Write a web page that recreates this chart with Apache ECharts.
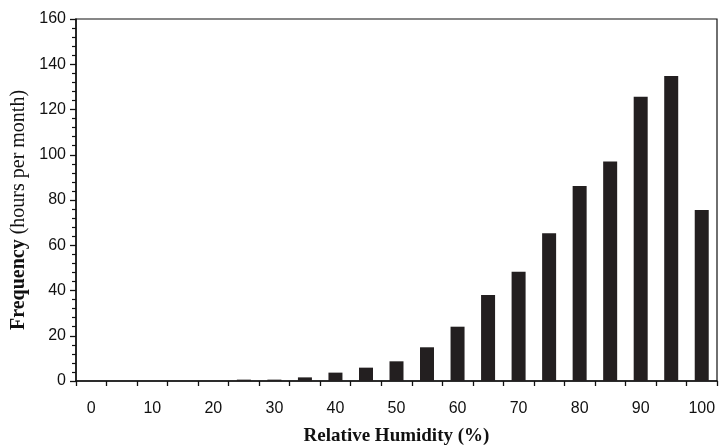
<!DOCTYPE html>
<html>
<head>
<meta charset="utf-8">
<script src="https://cdn.jsdelivr.net/npm/echarts@6/dist/echarts.min.js"></script>
<style>html,body{margin:0;padding:0;background:#fff;}#c{width:725px;height:445px;}</style>
</head>
<body>
<div id="c"></div>
<script>
const categories = ['0','5','10','15','20','25','30','35','40','45','50','55','60','65','70','75','80','85','90','95','100'];
const frequency = [0,0,0,0,0,0.6,0.6,1.6,3.7,5.9,8.7,14.9,24,38,48.3,65.3,86.2,97,125.6,134.8,75.6];
const yTicks = {min:0, max:160, interval:20};

const chart = echarts.init(document.getElementById('c'), null, {renderer:'canvas'});
chart.setOption({
  backgroundColor:'#fff',
  animation:false,
  grid:{left:76, top:19, right:8, bottom:64, outerBoundsMode:'none', containLabel:false,
        show:true, borderColor:'#111', borderWidth:1.2, backgroundColor:'transparent'},
  xAxis:{
    type:'category', data:categories, boundaryGap:true,
    name:'Relative Humidity (%)', nameLocation:'middle', nameGap:46,
    nameTextStyle:{fontFamily:'Liberation Serif', fontWeight:'bold', fontSize:19, color:'#111'},
    axisLine:{lineStyle:{color:'#111', width:1.5}},
    axisTick:{show:true, interval:0, length:5, lineStyle:{color:'#111', width:1.3}},
    axisLabel:{interval:1, fontFamily:'Liberation Sans', fontSize:16, color:'#111', margin:20},
    splitLine:{show:false}
  },
  yAxis:{
    type:'value', min:yTicks.min, max:yTicks.max, interval:yTicks.interval,
    name:'{b|Frequency} {r|(hours per month)}', nameLocation:'middle', nameGap:40,
    nameTextStyle:{fontFamily:'Liberation Serif', fontSize:20, color:'#111', padding:[0,20,0,0],
      rich:{
        b:{fontFamily:'Liberation Serif', fontWeight:'bold', fontSize:20, color:'#111'},
        r:{fontFamily:'Liberation Serif', fontWeight:'normal', fontSize:20, color:'#111'}
      }},
    axisLine:{show:true, lineStyle:{color:'#111', width:1.5}},
    axisTick:{show:true, length:6, lineStyle:{color:'#111', width:1.3}},
    minorTick:{show:true, splitNumber:5, length:4, lineStyle:{color:'#111', width:1.2}},
    axisLabel:{fontFamily:'Liberation Sans', fontSize:16, color:'#111', margin:10},
    splitLine:{show:false}
  },
  series:[{
    type:'bar', data:frequency, barWidth:14,
    itemStyle:{color:'#231f20'}
  }]
});
</script>
</body>
</html>
